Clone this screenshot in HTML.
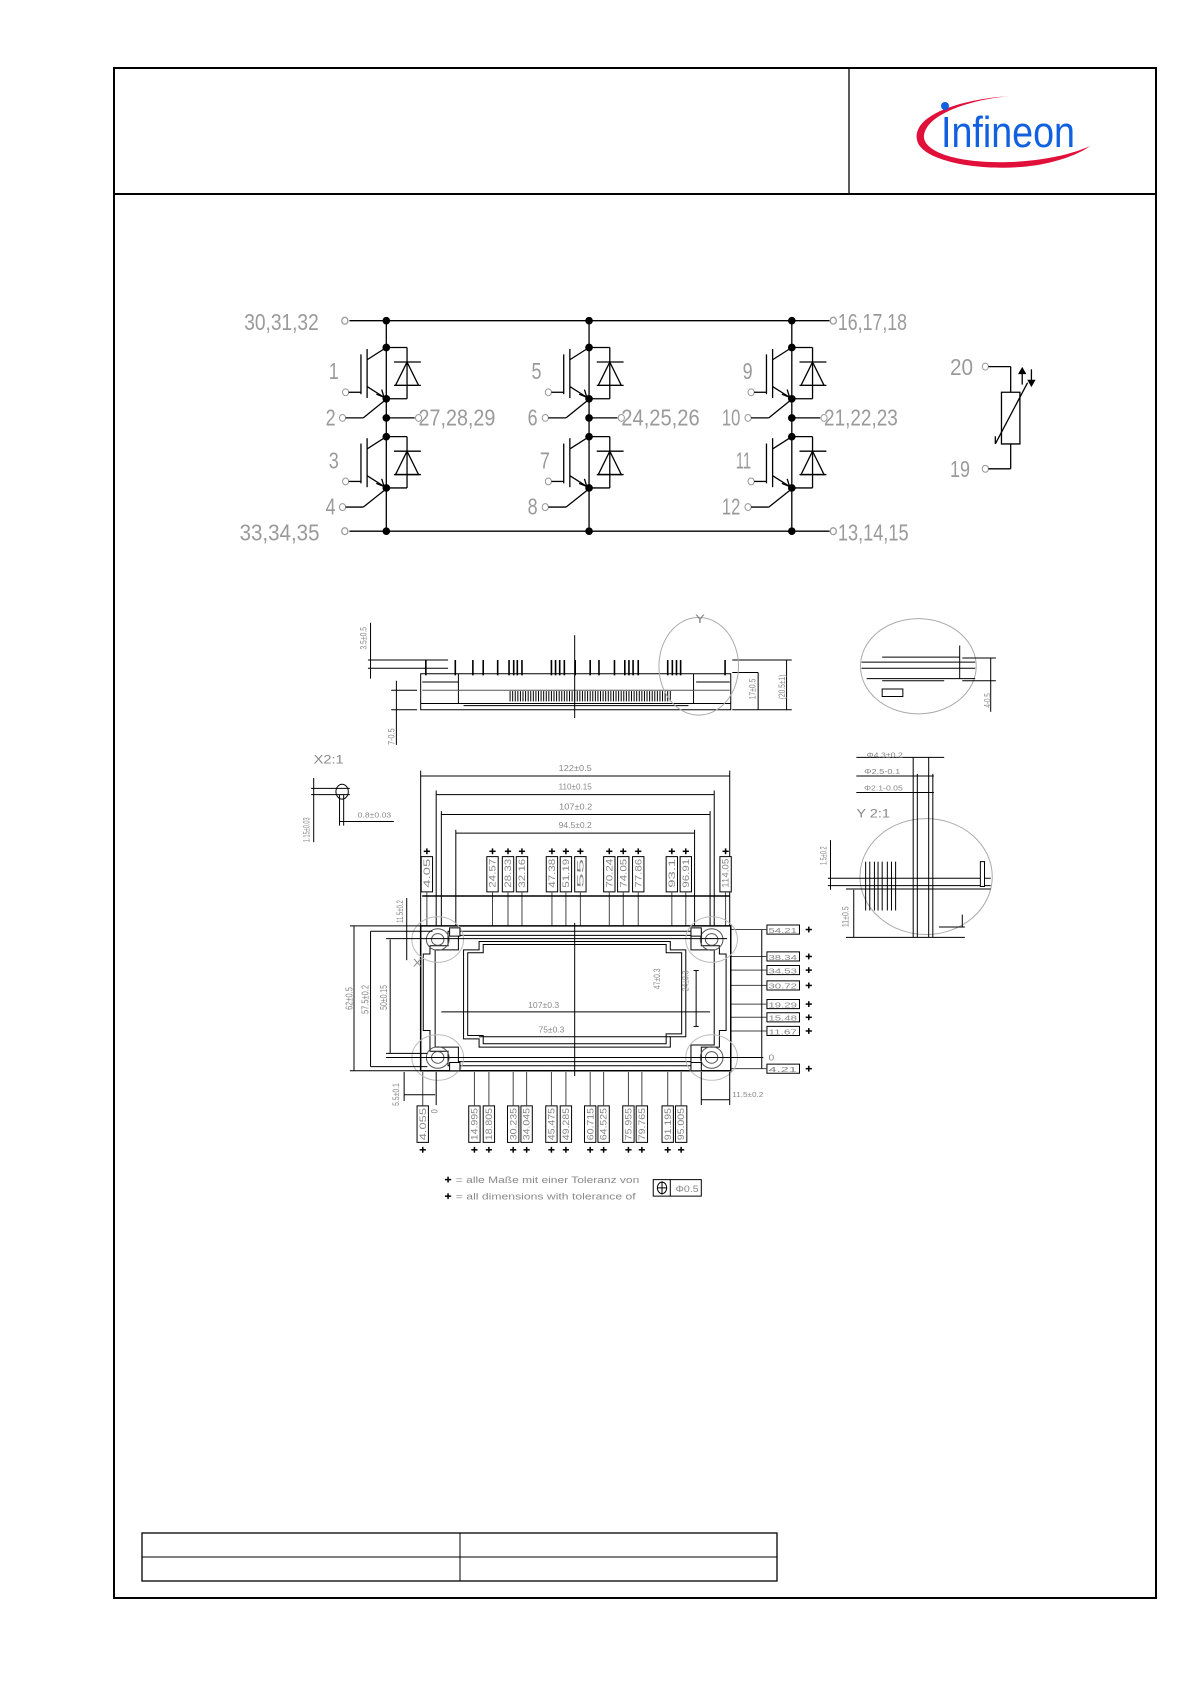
<!DOCTYPE html>
<html><head><meta charset="utf-8"><style>
html,body{margin:0;padding:0;background:#fff;}
svg{display:block;}
.g{fill:#9a9a9a;font-family:"Liberation Sans",sans-serif;}
.d{fill:#888;font-family:"Liberation Sans",sans-serif;}
</style></head><body>
<svg width="1191" height="1684" viewBox="0 0 1191 1684" xmlns="http://www.w3.org/2000/svg">
<!-- frame -->
<rect x="114" y="68" width="1042" height="1530" fill="none" stroke="#000" stroke-width="2"/>
<line x1="114" y1="194" x2="1156" y2="194" stroke="#000" stroke-width="2"/>
<line x1="849" y1="68" x2="849" y2="194" stroke="#000" stroke-width="1.3"/>
<!-- logo -->
<path d="M1018,96 C960,100 920,118 925,140 C930,165 1010,175 1060,162 C1080,157 1093,150 1098,146 C1085,152 1060,160 1020,162 C960,164 930,150 932,135 C935,115 975,100 1018,96 Z" fill="#e0103a" transform="translate(-8,0)"/>
<circle cx="945" cy="106" r="4" fill="#1060e0"/>
<text x="941" y="147" font-family="Liberation Sans,sans-serif" font-size="44" fill="#1060e0" textLength="134" lengthAdjust="spacingAndGlyphs">Infineon</text>
<!-- bottom table -->
<rect x="142" y="1533" width="635" height="48" fill="none" stroke="#000" stroke-width="1.3"/>
<line x1="142" y1="1557" x2="777" y2="1557" stroke="#000" stroke-width="1"/>
<line x1="460" y1="1533" x2="460" y2="1581" stroke="#000" stroke-width="1"/>

<g transform="scale(0.768,0.3827)" stroke="#000" fill="none" stroke-width="1.3">
 <line x1="455" y1="838" x2="1080" y2="838" vector-effect="non-scaling-stroke"/>
 <line x1="455" y1="1388" x2="1080" y2="1388" vector-effect="non-scaling-stroke"/>
 <ellipse cx="449" cy="838" rx="4" ry="9" vector-effect="non-scaling-stroke" stroke="#999"/>
 <ellipse cx="449" cy="1388" rx="4" ry="9" vector-effect="non-scaling-stroke" stroke="#999"/>
 <ellipse cx="1085" cy="838" rx="4" ry="9" vector-effect="non-scaling-stroke" stroke="#999"/>
 <ellipse cx="1085" cy="1388" rx="4" ry="9" vector-effect="non-scaling-stroke" stroke="#999"/>
</g>
<g id="cols"></g>
<script>
(function(){
var ns="http://www.w3.org/2000/svg";
var root=document.getElementById('cols');
var g=document.createElementNS(ns,'g');g.setAttribute('transform','scale(0.768,0.3827)');root.appendChild(g);
function L(x1,y1,x2,y2,c){var e=document.createElementNS(ns,'line');e.setAttribute('x1',x1);e.setAttribute('y1',y1);e.setAttribute('x2',x2);e.setAttribute('y2',y2);e.setAttribute('stroke',c||'#000');e.setAttribute('stroke-width','1.3');e.setAttribute('vector-effect','non-scaling-stroke');g.appendChild(e);}
function D(x,y){var e=document.createElementNS(ns,'ellipse');e.setAttribute('cx',x);e.setAttribute('cy',y);e.setAttribute('rx',5);e.setAttribute('ry',10);e.setAttribute('fill','#000');g.appendChild(e);}
function O(x,y){var e=document.createElementNS(ns,'ellipse');e.setAttribute('cx',x);e.setAttribute('cy',y);e.setAttribute('rx',4);e.setAttribute('ry',9);e.setAttribute('fill','#fff');e.setAttribute('stroke','#999');e.setAttribute('vector-effect','non-scaling-stroke');g.appendChild(e);}
function T(x,y,s,w,anchor){var e=document.createElementNS(ns,'text');e.setAttribute('x',x);e.setAttribute('y',y);e.setAttribute('class','g');e.setAttribute('font-size','60');e.setAttribute('textLength',w);e.setAttribute('lengthAdjust','spacingAndGlyphs');if(anchor)e.setAttribute('text-anchor',anchor);e.textContent=s;g.appendChild(e);}
function P(d,fill){var e=document.createElementNS(ns,'path');e.setAttribute('d',d);e.setAttribute('fill',fill||'none');e.setAttribute('stroke','#000');e.setAttribute('stroke-width','1.3');e.setAttribute('vector-effect','non-scaling-stroke');g.appendChild(e);}
var cols=[503,767,1031];
cols.forEach(function(cx){
 L(cx,838,cx,1388);D(cx,838);D(cx,1388);
 [0,233].forEach(function(o){
  var c=908+o,e=1042+o;
  D(cx,c);D(cx,e);
  L(cx,c,cx+27,c);L(cx+27,c,cx+27,e);L(cx+27,e,cx,e);
  L(cx+10,946+o,cx+45,946+o);L(cx+10,1007+o,cx+45,1007+o);
  P('M'+(cx+27)+','+(946+o)+' L'+(cx+12)+','+(1007+o)+' L'+(cx+42)+','+(1007+o)+' Z');
  L(cx-33,926+o,cx-33,1030+o);L(cx-25,912+o,cx-25,1040+o);
  L(cx-25,940+o,cx,c);L(cx-25,1010+o,cx-3,1038+o);
  P('M'+(cx-3)+','+(1038+o)+' l-10,-8 M'+(cx-3)+','+(1038+o)+' l-3,-20');
  O(cx-53,1025+o);L(cx-49,1025+o,cx-33,1025+o);
 });
 D(cx,1092);L(cx,1092,cx+37,1092);O(cx+42,1092);
 O(cx-57,1092);L(cx-53,1092,cx-30,1092);L(cx-30,1092,cx-3,1048);
 O(cx-57,1325);L(cx-53,1325,cx-30,1325);L(cx-30,1325,cx-3,1282);
});
T(318,862,'30,31,32',97);T(312,1412,'33,34,35',104);
T(1091,862,'16,17,18',90);T(1091,1412,'13,14,15',92);
T(441,990,'1',13,'end');T(441,1224,'3',13,'end');
T(705,990,'5',13,'end');T(716,1224,'7',13,'end');
T(980,990,'9',13,'end');T(978,1224,'11',20,'end');
T(437,1112,'2',13,'end');T(700,1112,'6',13,'end');T(964,1112,'10',24,'end');
T(437,1345,'4',13,'end');T(700,1345,'8',13,'end');T(964,1345,'12',24,'end');
T(545,1112,'27,28,29',100);T(809,1112,'24,25,26',102);T(1073,1112,'21,22,23',96);
T(1237,980,'20',30);T(1237,1247,'19',26);
O(1283,958);O(1283,1225);
L(1287,958,1316,958);L(1316,958,1316,1025);
P('M1304,1025 L1328,1025 L1328,1160 L1304,1160 Z');
L(1316,1160,1316,1225);L(1316,1225,1287,1225);
L(1296,1160,1338,1000);L(1296,1160,1296,1140);
L(1331,965,1331,1005);L(1343,965,1343,1005);
P('M1331,962 l-4,14 l8,0 Z','#000');P('M1343,1008 l-4,-14 l8,0 Z','#000');
})();
</script>

<g transform="translate(200,600) scale(0.5168,0.414)" fill="none" stroke="#000" stroke-width="1">
<g id="mech"></g>
</g>
<script>
(function(){
var ns="http://www.w3.org/2000/svg";
var g=document.getElementById('mech');
function L(x1,y1,x2,y2,c,w){var e=document.createElementNS(ns,'line');e.setAttribute('x1',x1);e.setAttribute('y1',y1);e.setAttribute('x2',x2);e.setAttribute('y2',y2);e.setAttribute('stroke',c||'#000');e.setAttribute('stroke-width',w||'1');e.setAttribute('vector-effect','non-scaling-stroke');g.appendChild(e);}
function R(x,y,w,h,c,sw){var e=document.createElementNS(ns,'rect');e.setAttribute('x',x);e.setAttribute('y',y);e.setAttribute('width',w);e.setAttribute('height',h);e.setAttribute('fill','#fff');e.setAttribute('stroke',c||'#000');e.setAttribute('stroke-width',sw||'1');e.setAttribute('vector-effect','non-scaling-stroke');g.appendChild(e);}
function E(cx,cy,rx,ry,c){var e=document.createElementNS(ns,'ellipse');e.setAttribute('cx',cx);e.setAttribute('cy',cy);e.setAttribute('rx',rx);e.setAttribute('ry',ry);e.setAttribute('fill','none');e.setAttribute('stroke',c||'#000');e.setAttribute('stroke-width','1');e.setAttribute('vector-effect','non-scaling-stroke');g.appendChild(e);}
function P(d,c){var e=document.createElementNS(ns,'path');e.setAttribute('d',d);e.setAttribute('fill','none');e.setAttribute('stroke',c||'#000');e.setAttribute('stroke-width','1');e.setAttribute('vector-effect','non-scaling-stroke');g.appendChild(e);}
function T(x,y,s,fs,w,rot,anchor){var e=document.createElementNS(ns,'text');e.setAttribute('x',x);e.setAttribute('y',y);e.setAttribute('class','d');e.setAttribute('font-size',fs);e.setAttribute('stroke','none');if(w){e.setAttribute('textLength',w);e.setAttribute('lengthAdjust','spacingAndGlyphs');}if(rot)e.setAttribute('transform','rotate(-90 '+x+' '+y+')');if(anchor)e.setAttribute('text-anchor',anchor);e.textContent=s;g.appendChild(e);}
function plus(x,y){L(x-6,y,x+6,y,'#000',1.5);L(x,y-7,x,y+7,'#000',1.5);}
R(427,178,600,87);L(427,250,1027,250);L(510,255,945,255);L(500,178,500,250);L(955,178,955,250);
L(430,198,500,198);L(960,198,1025,198);L(430,218,1025,218,'#555');
L(325,145,480,145);L(325,165,480,165);L(1030,145,1145,145);L(1030,265,1145,265);L(1030,175,1080,175);
L(330,55,330,190);L(1135,145,1135,265);L(1080,175,1080,265);
L(380,195,380,350);L(370,218,420,218);L(370,265,420,265);L(725,85,725,285);
var pins=[437,494,528,548,576,598,607,614,623,680,688,696,705,726,755,772,802,822,830,838,848,905,914,922,930,1016];
pins.forEach(function(x){L(x,145,x,182,'#000',1.6);});
for(var x=600;x<915;x+=5){L(x,220,x,245,'#000',1);}
E(965,160,77,118,'#aaa');E(1390,160,112,115,'#aaa');
T(958,55,'Y',28);
T(322,120,'3.5±0.5',18,55,true);T(1075,240,'17±0.5',18,50,true);T(1132,240,'(20.5±1)',18,60,true);T(376,350,'7-0.5',18,40,true);
L(1280,150,1500,150);L(1280,165,1500,165);L(1320,138,1470,138);L(1290,190,1500,190);L(1320,195,1440,195);
R(1320,215,40,18);L(1470,110,1470,190);L(1475,140,1540,140);L(1475,195,1540,195);L(1530,140,1530,270);
T(1530,260,'4-0.5',18,35,true);
T(220,395,'X2:1',30,58);E(275,463,12,18,'#000');L(215,455,290,455);L(215,470,290,470);L(220,430,220,585);L(270,470,270,545);L(278,470,278,545);L(270,535,375,535);
T(212,585,'1.15±0.03',18,60,true);T(305,525,'0.8±0.03',18,65);
T(1270,525,'Y 2:1',30,65);E(1405,668,128,140,'#aaa');
L(1380,380,1380,815);L(1388,420,1388,815);L(1410,380,1410,815);L(1418,420,1418,815);
L(1270,380,1440,380);L(1270,425,1420,425);L(1270,465,1420,465);
L(1215,672,1530,672);L(1215,690,1530,690);L(1250,698,1530,698);L(1250,815,1480,815);
[1288,1296,1305,1312,1320,1330,1338,1346].forEach(function(x){L(x,632,x,750);});
R(1510,632,8,60);L(1475,760,1475,790);L(1430,790,1480,790);L(1220,580,1220,700);L(1265,700,1265,815);
T(1290,380,'Φ4.3±0.2',18,70);T(1285,420,'Φ2.5-0.1',18,70);T(1285,460,'Φ2.1-0.05',18,75);
T(1212,640,'1.5±0.2',18,45,true);T(1255,790,'11±0.5',18,50,true);
[[425,427,1025,'122±0.5'],[470,457,995,'110±0.15'],[518,467,987,'107±0.2'],[563,495,957,'94.5±0.2']].forEach(function(d){L(d[1],d[0],d[2],d[0]);T((d[1]+d[2])/2,d[0]-12,d[3],20,64,false,'middle');});
L(427,412,427,795);L(1025,412,1025,795);L(457,460,457,795);L(995,460,995,795);L(467,510,467,800);L(987,510,987,800);L(495,555,495,795);L(957,555,957,795);
var tb=[[428,'4.05'],[555,'24.57'],[585,'28.33'],[612,'32.16'],[670,'47.38'],[697,'51.19'],[725,'55'],[781,'70.24'],[808,'74.05'],[837,'77.86'],[902,'93.1'],[929,'96.91'],[1006,'114.05']];
tb.forEach(function(b){R(b[0],620,22,85);T(b[0]+17,695,b[1],18,70,true);plus(b[0]+11,607);L(b[0]+11,705,b[0]+11,790,'#444');});
L(430,715,1025,715,'#000',1.5);
var bb=[[420,'4.055'],[520,'14.995'],[548,'18.805'],[595,'30.235'],[621,'34.045'],[669,'45.475'],[697,'49.285'],[744,'60.715'],[770,'64.525'],[818,'75.955'],[844,'79.765'],[894,'91.195'],[920,'95.005']];
bb.forEach(function(b){R(b[0],1222,22,88);T(b[0]+17,1305,b[1],18,78,true);plus(b[0]+11,1328);L(b[0]+11,1140,b[0]+11,1222,'#444');});
var rb=[[785,'54.21'],[850,'38.34'],[883,'34.53'],[920,'30.72'],[965,'19.29'],[997,'15.48'],[1030,'11.67'],[1121,'4.21']];
rb.forEach(function(b){R(1097,b[0],63,22);T(1100,b[0]+19,b[1],18,55);plus(1178,b[0]+11);L(1020,b[0]+11,1097,b[0]+11,'#444');});
R(427,787,600,350,'#000',1.5);
P('M480,800 L970,800 L970,835 L1005,835 L1005,855 L1018,855 L1018,1040 L1005,1040 L1005,1080 L970,1080 L970,1125 L480,1125 L480,1090 L445,1090 L445,1040 L432,1040 L432,855 L445,855 L445,835 L480,835 Z');
P('M500,810 L950,810 L950,845 L995,845 L995,1075 L950,1075 L950,1115 L500,1115 L500,1080 L455,1080 L455,845 L500,845 Z');
P('M540,825 L910,825 L910,845 L940,845 L940,1055 L910,1055 L910,1080 L540,1080 L540,1060 L510,1060 L510,845 L540,845 Z');
P('M548,832 L902,832 L902,852 L932,852 L932,1048 L902,1048 L902,1072 L548,1072 L548,1052 L518,1052 L518,852 L548,852 Z');
[[460,820],[990,820],[460,1105],[990,1105]].forEach(function(c){E(c[0],c[1],22,26,'#555');E(c[0],c[1],12,14,'#555');E(c[0],c[1],50,55,'#bbb');});
R(483,792,20,20);R(950,792,20,20);R(483,1117,20,20);R(950,1117,20,20);
L(725,780,725,1150,'#000');
L(360,818,1020,818);L(330,800,450,800);L(290,787,440,787);L(290,1137,440,1137);L(330,1127,440,1127);L(360,1095,440,1095);L(360,1105,1090,1105);
L(298,787,298,1137);L(330,800,330,1127);L(368,820,368,1095);L(400,720,400,870);
L(467,995,987,995);L(540,1055,910,1055);L(960,895,960,1030);L(955,895,965,895);L(955,1030,965,1030);L(1087,797,1087,1132);
L(457,1140,457,1220);L(970,1140,970,1220);L(1025,1140,1025,1220);L(970,1207,1025,1207);
L(395,1140,395,1210);L(395,1195,455,1195);
T(295,990,'62±0.5',20,55,true);T(326,1000,'57.5±0.2',20,70,true);T(362,990,'50±0.15',20,60,true);T(393,780,'11.5±0.2',18,55,true);
T(635,985,'107±0.3',20,60);T(655,1045,'75±0.3',20,50);T(890,940,'47±0.3',18,50,true);T(945,945,'24±0.3',18,50,true);
T(1030,1200,'11.5±0.2',18,60);T(385,1222,'5.5±0.1',18,55,true);T(412,885,'X',26);T(1100,1112,'0',20);T(460,1240,'0',18,null,true);
plus(480,1400);plus(480,1440);
T(495,1408,'= alle Maße mit einer Toleranz von',22,355);
T(495,1448,'= all dimensions with tolerance of',22,348);
R(877,1400,93,40);L(910,1400,910,1440);E(894,1420,9,14,'#000');L(884,1420,904,1420);L(894,1404,894,1436);
T(920,1430,'Φ0.5',22,45);
})();
</script>
</svg>
</body></html>
